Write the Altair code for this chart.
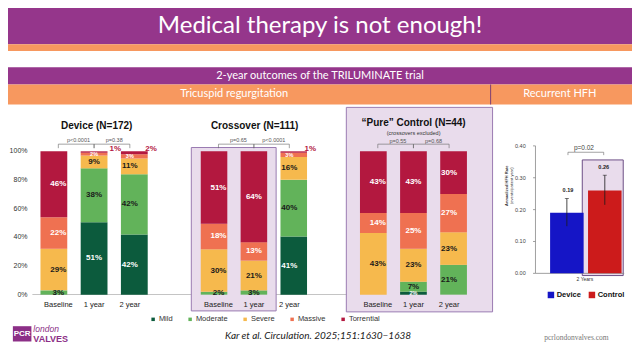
import altair as alt
import pandas as pd

W, H = 624, 344
SX, SY = W / 640.0, H / 360.0


def sx(v):
    return v * SX


def sy(v):
    return v * SY


FONT = "Liberation Sans"
HEAD_FONT = "Lato"

# ---------------- data ----------------
grades = ["Mild", "Moderate", "Severe", "Massive", "Torrential"]
grade_colors = ["#0c5b3d", "#62b35a", "#f6b94d", "#ef7151", "#b3183f"]
label_colors = ["#ffffff", "#1a1a1a", "#1a1a1a", "#ffffff", "#ffffff"]
times = ["Baseline", "1 year", "2 year"]

device_vals = [[0, 3, 29, 22, 46], [51, 38, 9, 2, 1], [42, 42, 11, 3, 2]]
crossover_vals = [[0, 2, 30, 18, 51], [0, 3, 21, 13, 64], [41, 40, 16, 3, 1]]
control_vals = [[0, 0, 43, 14, 43], [2, 7, 23, 25, 43], [0, 21, 23, 27, 30]]

device_p = ["p<0.0001", "p=0.38"]
crossover_p = ["p=0.65", "p<0.0001"]
control_p = ["p=0.55", "p=0.68"]

device_outside = ["1 year", "2 year"]
crossover_outside = ["2 year"]
control_outside = []

pct_ticks = [0, 20, 40, 60, 80, 100]

hfh_groups = ["Device", "Control"]
hfh_rate = [0.19, 0.26]
hfh_lo = [0.148, 0.215]
hfh_hi = [0.235, 0.308]
hfh_colors = ["#1515c6", "#cc1b1b"]
hfh_ticks = [0.0, 0.1, 0.2, 0.3, 0.4]
hfh_p = "p=0.02"

PURPLE = "#95368b"
ORANGE = "#f7985f"
SHADE = "#e9dcec"
SHADE_STROKE = "#9a7bb2"

charts = []

# ---------------- decoration (slide coordinates) ----------------
XD = alt.Scale(domain=[0, 640], range=[0, W], nice=False, zero=False)
YD = alt.Scale(domain=[0, 360], range=[0, H], nice=False, zero=False)

rects = pd.DataFrame([
    dict(x=0, x2=640, y=0, y2=38, fill=PURPLE, stroke="none", sw=0),
    dict(x=0, x2=640, y=38, y2=45, fill=ORANGE, stroke="none", sw=0),
    dict(x=0, x2=640, y=62, y2=80, fill=PURPLE, stroke="none", sw=0),
    dict(x=0, x2=640, y=80, y2=101, fill=ORANGE, stroke="none", sw=0),
    dict(x=25, x2=350, y=299.6, y2=300.4, fill="#b0b0b0", stroke="none", sw=0),
    dict(x=188, x2=275, y=146, y2=317, fill=SHADE, stroke=SHADE_STROKE, sw=1),
    dict(x=347, x2=497, y=104, y2=318, fill=SHADE, stroke=SHADE_STROKE, sw=1),
    dict(x=589, x2=631, y=159, y2=280, fill=SHADE, stroke="#6d4f86", sw=1),
    dict(x=494.5, x2=495.5, y=80, y2=101, fill="#7b3d74", stroke="none", sw=0),
    dict(x=5, x2=24, y=333, y2=349, fill="#8c2f87", stroke="none", sw=0),
])

charts.append(alt.Chart(rects).mark_rect().encode(
    x=alt.X("x:Q", scale=XD, axis=None), x2="x2:Q",
    y=alt.Y("y:Q", scale=YD, axis=None), y2="y2:Q",
    fill=alt.Fill("fill:N", scale=None),
    stroke=alt.Stroke("stroke:N", scale=None),
    strokeWidth=alt.StrokeWidth("sw:Q", scale=None),
))


def deco_text(rows, **kw):
    df = pd.DataFrame(rows)
    return alt.Chart(df).mark_text(baseline="middle", **kw).encode(
        x=alt.X("x:Q", scale=XD, axis=None),
        y=alt.Y("y:Q", scale=YD, axis=None),
        text="t:N",
        size=alt.Size("s:Q", scale=None),
        color=alt.Color("c:N", scale=None),
    )


charts += [
    deco_text([
        dict(x=320, y=19, t="Medical therapy is not enough!", s=24, c="#ffffff"),
        dict(x=320, y=71, t="2-year outcomes of the TRILUMINATE trial", s=11, c="#ffffff"),
        dict(x=232, y=90.5, t="Tricuspid regurgitation", s=11, c="#ffffff"),
        dict(x=566, y=90.5, t="Recurrent HFH", s=11, c="#ffffff"),
    ], font=HEAD_FONT),
    deco_text([
        dict(x=91, y=124, t="Device (N=172)", s=10, c="#111111"),
        dict(x=253, y=124, t="Crossover (N=111)", s=10, c="#111111"),
        dict(x=416, y=120.5, t="\u201cPure\u201d Control (N=44)", s=10, c="#111111"),
    ], font=FONT, fontWeight="bold"),
    deco_text([
        dict(x=416, y=130.5, t="(crossovers excluded)", s=5.5, c="#333333"),
        dict(x=591.7, y=283.5, t="2 Years", s=5, c="#333333"),
    ], font=FONT),
    deco_text([
        dict(x=318, y=343, t="Kar et al. Circulation. 2025;151:1630\u22121638", s=10, c="#222222"),
    ], font=HEAD_FONT, fontStyle="italic"),
    deco_text([dict(x=583, y=345, t="pcrlondonvalves.com", s=7.5, c="#777777")],
              font="Liberation Serif"),
    deco_text([dict(x=14.5, y=341.5, t="PCR", s=8, c="#ffffff")], font=FONT, fontWeight="bold"),
    deco_text([dict(x=26, y=336, t="london", s=8.5, c="#8c2f87")],
              font=FONT, fontStyle="italic", align="left"),
    deco_text([dict(x=26, y=346.5, t="VALVES", s=9, c="#8c2f87")],
              font=FONT, fontWeight="bold", align="left"),
    deco_text([dict(x=512, y=186, t="Annualized HFH Rate", s=4, c="#333333")],
              font=FONT, fontWeight="bold", angle=270),
    deco_text([dict(x=517, y=186, t="(events/patient year)", s=4, c="#333333")],
              font=FONT, angle=270),
]

# ---------------- tricuspid regurgitation panels ----------------
PI = 0.334


def tr_panel(vals, x0, x1, pvals, outside, show_axis=False, legend=None, p_y=1.082):
    rows = []
    for t, v in zip(times, vals):
        for i, (g, val) in enumerate(zip(grades, v)):
            if val <= 0:
                continue
            out = 1 if (t in outside and g == "Torrential") else 0
            small = val <= 3 and g in ("Mild", "Massive")
            rows.append(dict(time=t, grade=g, ord=i, value=val, label=f"{val}%",
                             lc=label_colors[i], fs=5.5 if small else 8, out=out))
    df = pd.DataFrame(rows)
    step = (sx(x1) - sx(x0)) / (3 - PI)
    bw = step * (1 - PI)
    xs = alt.Scale(domain=times, range=[sx(x0), sx(x1)], paddingInner=PI, paddingOuter=0)
    ys = alt.Scale(domain=[0, 1], range=[sy(300), sy(150)], nice=False, zero=False)
    X = alt.X("time:N", scale=xs, axis=None)

    base = alt.Chart(df).transform_stack(
        stack="value", as_=["y0", "y1"], groupby=["time"],
        sort=[alt.SortField("ord", order="ascending")], offset="normalize",
    ).transform_calculate(mid="(datum.y0 + datum.y1) / 2")

    out = []
    out.append(base.mark_bar().encode(
        x=X,
        y=alt.Y("y0:Q", scale=ys, axis=None), y2="y1:Q",
        color=alt.Color("grade:N", scale=alt.Scale(domain=grades, range=grade_colors),
                        legend=legend),
    ))
    out.append(base.transform_filter("datum.out == 0").mark_text(
        font=FONT, fontWeight="bold", baseline="middle").encode(
        x=X, y=alt.Y("mid:Q", scale=ys, axis=None), text="label:N",
        color=alt.Color("lc:N", scale=None), size=alt.Size("fs:Q", scale=None),
    ))
    if outside:
        out.append(base.transform_filter("datum.out == 1").mark_text(
            font=FONT, fontWeight="bold", baseline="middle", align="left",
            dx=bw / 2 + 2, dy=-2, fontSize=8, color="#b3183f").encode(
            x=X, y=alt.Y("y1:Q", scale=ys, axis=None), text="label:N",
        ))

    brows = []
    for k, (t1, t2) in enumerate([(times[0], times[1]), (times[1], times[2])]):
        brows += [dict(time=t1, yv=1.022, o=0, b=k), dict(time=t1, yv=1.05, o=1, b=k),
                  dict(time=t2, yv=1.05, o=2, b=k), dict(time=t2, yv=1.022, o=3, b=k)]
    out.append(alt.Chart(pd.DataFrame(brows)).mark_line(color="#666666", strokeWidth=0.6).encode(
        x=X, y=alt.Y("yv:Q", scale=ys, axis=None), detail="b:N", order="o:Q",
    ))
    pdf = pd.DataFrame(dict(time=[times[0], times[1]], p=pvals, yv=[p_y, p_y]))
    out.append(alt.Chart(pdf).mark_text(font=FONT, fontSize=5.5, color="#555555",
                                        baseline="middle", dx=step / 2).encode(
        x=X, y=alt.Y("yv:Q", scale=ys, axis=None), text="p:N",
    ))
    cdf = pd.DataFrame(dict(time=times, yv=[-0.073] * 3))
    out.append(alt.Chart(cdf).mark_text(
        font=FONT, fontSize=7.5, color="#222222", baseline="middle").encode(
        x=X, y=alt.Y("yv:Q", scale=ys, axis=None), text="time:N",
    ))
    if show_axis:
        tdf = pd.DataFrame(dict(f=[t / 100 for t in pct_ticks], lab=[f"{t}%" for t in pct_ticks]))
        out.append(alt.Chart(tdf).mark_text(font=FONT, fontSize=7, color="#333333",
                                            align="right", baseline="middle").encode(
            x=alt.value(sx(20)), y=alt.Y("f:Q", scale=ys, axis=None), text="lab:N",
        ))
    return out


tr_legend = alt.Legend(orient="none", legendX=sx(145), legendY=sy(321.5), direction="horizontal",
                       title=None, symbolType="square", symbolSize=12, symbolStrokeWidth=0,
                       labelFontSize=7.5, labelFont=FONT, labelColor="#333333",
                       columnPadding=13, labelOffset=2)

charts += tr_panel(device_vals, 33.3, 143.3, device_p, device_outside, show_axis=True, legend=tr_legend)
charts += tr_panel(crossover_vals, 197.7, 306.7, crossover_p, crossover_outside)
charts += tr_panel(control_vals, 361, 470.7, control_p, control_outside, p_y=1.075)

# ---------------- recurrent HFH panel ----------------
HPI = 0.116
hxs = alt.Scale(domain=hfh_groups, range=[sx(556), sx(629.3)], paddingInner=HPI, paddingOuter=0)
hys = alt.Scale(domain=[0, 0.4], range=[sy(277.7), sy(144.3)], nice=False, zero=False)
hstep = (sx(629.3) - sx(556)) / (2 - HPI)
HX = alt.X("group:N", scale=hxs, axis=None)

hdf = pd.DataFrame(dict(group=hfh_groups, rate=hfh_rate, lo=hfh_lo, hi=hfh_hi,
                        lab=[f"{v:.2f}" for v in hfh_rate]))
hfh_legend = alt.Legend(orient="none", legendX=sx(553), legendY=sy(296), direction="horizontal",
                        title=None, symbolType="square", symbolSize=42, symbolStrokeWidth=0,
                        labelFontSize=7.5, labelFont=FONT, labelFontWeight="bold",
                        labelColor="#111111", columnPadding=7, labelOffset=2)

axdf = pd.DataFrame(dict(v0=[0.0], v1=[0.4]))
htdf = pd.DataFrame(dict(v=hfh_ticks, lab=[f"{v:.2f}" for v in hfh_ticks]))
hbr = pd.DataFrame([
    dict(group="Device", yv=0.371, o=0), dict(group="Device", yv=0.38, o=1),
    dict(group="Control", yv=0.38, o=2), dict(group="Control", yv=0.371, o=3),
])

charts += [
    alt.Chart(axdf).mark_rule(color="#888888", strokeWidth=0.8).encode(
        x=alt.value(sx(541)), y=alt.Y("v0:Q", scale=hys, axis=None), y2="v1:Q",
    ),
    alt.Chart(axdf).mark_rule(color="#888888", strokeWidth=0.8).encode(
        x=alt.value(sx(541)), x2=alt.value(sx(632)), y=alt.Y("v0:Q", scale=hys, axis=None),
    ),
    alt.Chart(htdf).mark_rule(color="#888888", strokeWidth=0.8).encode(
        x=alt.value(sx(538.5)), x2=alt.value(sx(541)), y=alt.Y("v:Q", scale=hys, axis=None),
    ),
    alt.Chart(htdf).mark_text(font=FONT, fontSize=5.5, color="#444444",
                              align="right", baseline="middle").encode(
        x=alt.value(sx(531)), y=alt.Y("v:Q", scale=hys, axis=None), text="lab:N",
    ),
    alt.Chart(hdf).mark_bar().encode(
        x=HX, y=alt.Y("rate:Q", scale=hys, axis=None),
        color=alt.Color("group:N", scale=alt.Scale(domain=hfh_groups, range=hfh_colors),
                        legend=hfh_legend),
    ),
    alt.Chart(hdf).mark_rule(color="#1a1a1a", strokeWidth=0.8).encode(
        x=HX, y=alt.Y("lo:Q", scale=hys, axis=None), y2="hi:Q",
    ),
    alt.Chart(hdf).mark_tick(color="#1a1a1a", thickness=0.8, size=4).encode(
        x=HX, y=alt.Y("hi:Q", scale=hys, axis=None),
    ),
    alt.Chart(hdf).mark_text(font=FONT, fontWeight="bold", fontSize=5.5, color="#222222",
                             baseline="middle", dy=-8).encode(
        x=HX, y=alt.Y("hi:Q", scale=hys, axis=None), text="lab:N",
    ),
    alt.Chart(hbr).mark_line(color="#666666", strokeWidth=0.6).encode(
        x=HX, y=alt.Y("yv:Q", scale=hys, axis=None), order="o:Q",
    ),
    alt.Chart(pd.DataFrame(dict(group=["Device"], p=[hfh_p], yv=[0.393]))).mark_text(
        font=FONT, fontSize=6.5, color="#444444", baseline="middle", dx=hstep / 2 - 3).encode(
        x=HX, y=alt.Y("yv:Q", scale=hys, axis=None), text="p:N",
    ),
]

chart = alt.layer(*charts).resolve_scale(
    x="independent", y="independent", color="independent",
).properties(
    width=W, height=H, autosize=alt.AutoSizeParams(type="none"), padding=0,
    background="#ffffff",
).configure_view(stroke=None)

chart.save("out.html", embed_options={"renderer": "svg", "actions": False})
